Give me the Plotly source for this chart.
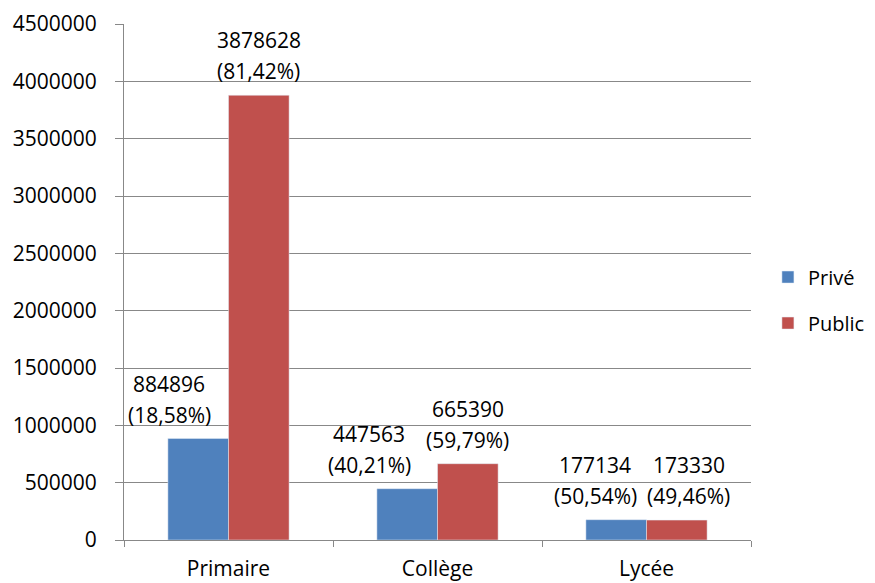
import plotly.graph_objects as go

categories = ["Primaire", "Collège", "Lycée"]
prive = [884896, 447563, 177134]
public = [3878628, 665390, 173330]
prive_pct = ["18,58%", "40,21%", "50,54%"]
public_pct = ["81,42%", "59,79%", "49,46%"]
y_ticks = [0, 500000, 1000000, 1500000, 2000000, 2500000, 3000000, 3500000, 4000000, 4500000]

# label horizontal nudges (pixels), styling only
prive_shift = [-29, -38, -21]
public_shift = [0, 0, 12]

FONT = "Open Sans"
FS = 21
BLUE = "#4F81BD"
RED = "#C0504D"
GRID = "#888888"

fig = go.Figure()
fig.add_trace(go.Bar(x=categories, y=prive, name="Privé", marker_color=BLUE,
                     legendgroup="a"))
fig.add_trace(go.Bar(x=categories, y=public, name="Public", marker_color=RED,
                     legendgroup="b"))

bargap = 0.42
half = (1 - bargap) / 4
annotations = []
for i, c in enumerate(categories):
    for vals, pcts, shifts, off in ((prive, prive_pct, prive_shift, -half),
                                    (public, public_pct, public_shift, half)):
        for txt, ys in ((str(vals[i]), 55), (f"({pcts[i]})", 24)):
            annotations.append(dict(
                x=i + off, y=vals[i], xref="x", yref="y",
                text=txt,
                showarrow=False, yanchor="middle", xanchor="center",
                xshift=shifts[i], yshift=ys,
                font=dict(family=FONT, size=FS, color="#000000"),
            ))

# page body has an 8px margin: figure is shrunk and margins offset to compensate
fig.update_layout(
    width=867, height=575,
    margin=dict(l=116, r=124, t=16, b=43, autoexpand=False),
    paper_bgcolor="white", plot_bgcolor="white",
    barmode="group", bargap=bargap, bargroupgap=0,
    font=dict(family=FONT, size=FS, color="#000000"),
    showlegend=True,
    legend=dict(x=1.027, y=0.465, xanchor="left", yanchor="middle",
                font=dict(family=FONT, size=20, color="#000000"),
                tracegroupgap=17, bgcolor="rgba(0,0,0,0)",
                borderwidth=0),
    annotations=annotations,
)
fig.update_xaxes(
    type="category", showline=True, linecolor=GRID, linewidth=1,
    tickson="boundaries", ticks="outside", ticklen=6, tickcolor=GRID,
    showgrid=False, ticklabelstandoff=10, automargin=False,
    tickfont=dict(family=FONT, size=FS, color="#000000"),
)
fig.update_yaxes(
    range=[0, 4500000], tickvals=y_ticks, tickformat="d",
    showline=True, linecolor=GRID, linewidth=1,
    showgrid=True, gridcolor=GRID, gridwidth=1,
    ticks="outside", ticklen=8, tickcolor=GRID,
    ticklabelstandoff=14, zeroline=False, automargin=False,
    tickfont=dict(family=FONT, size=FS, color="#000000"),
)

fig.write_html("out.html")
